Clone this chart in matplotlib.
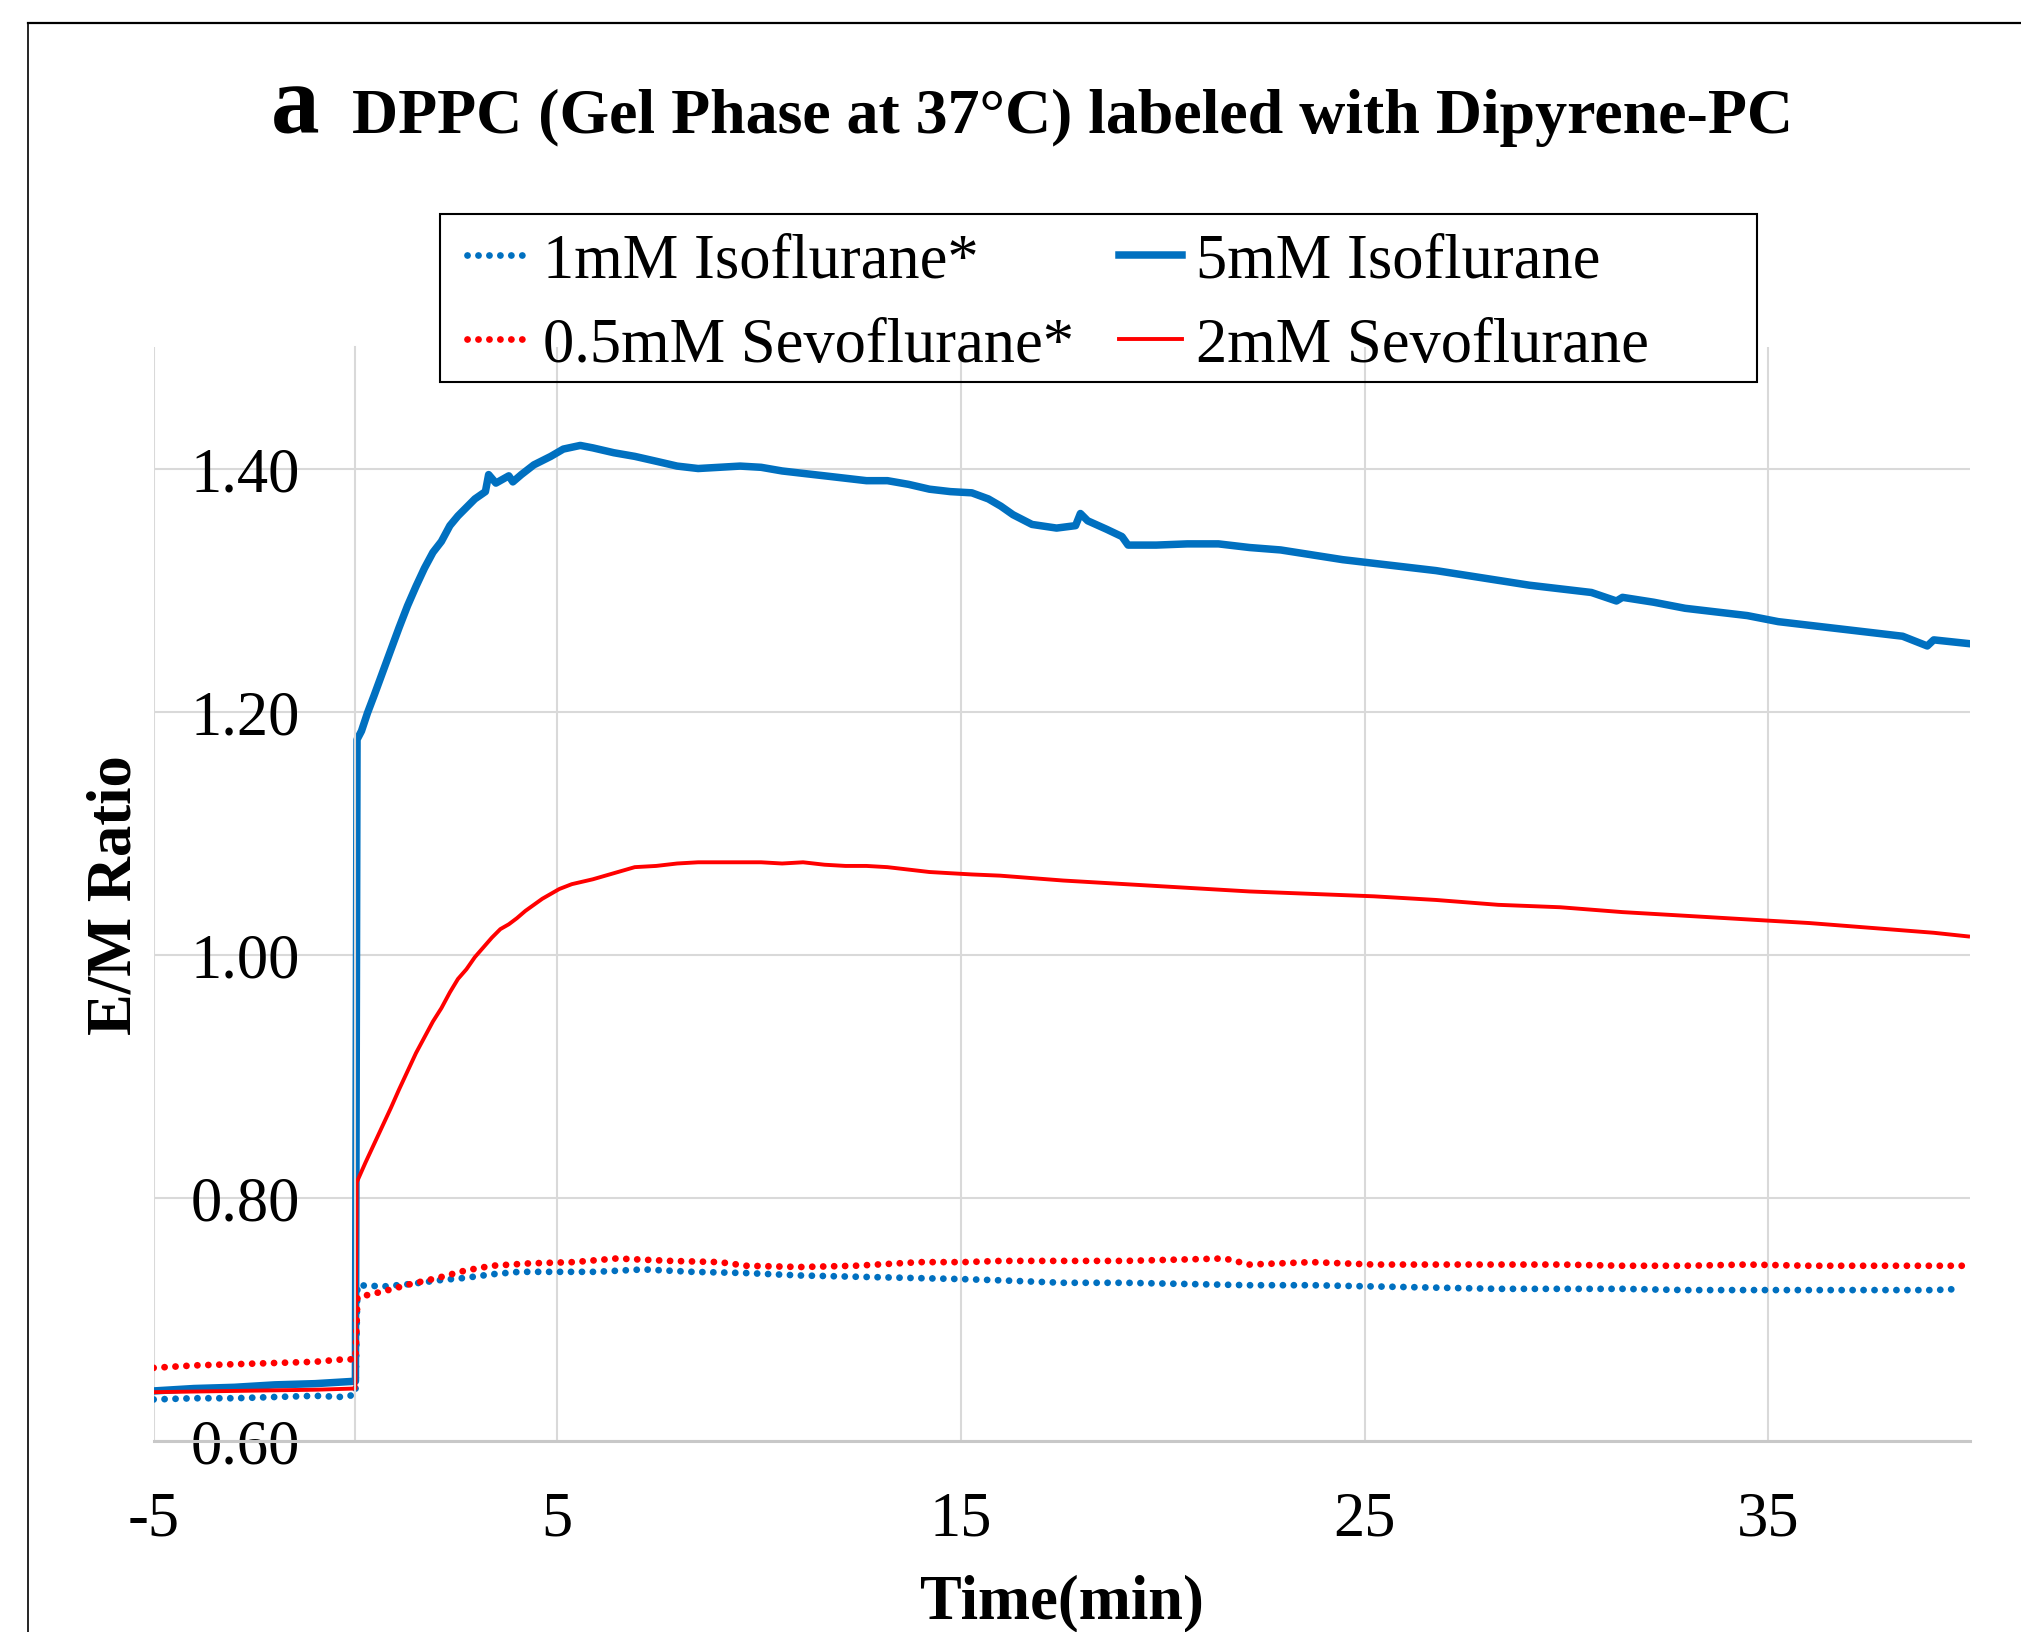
import numpy as np
import matplotlib
matplotlib.use("Agg")
import matplotlib.pyplot as plt
from matplotlib.lines import Line2D
from matplotlib.patches import Rectangle

# values, (time in min, E/M ratio)
iso1 = [(-5, 0.634), (-4, 0.635), (-3, 0.635), (-2, 0.636), (-1, 0.637), (-0.3, 0.636), (0.0, 0.638),
        (0.05, 0.728), (0.70, 0.727), (1.37, 0.729), (2.04, 0.732), (2.71, 0.734), (3.38, 0.737),
        (4.05, 0.739), (4.99, 0.739), (5.93, 0.739), (7.14, 0.741), (8.35, 0.739), (9.69, 0.738),
        (11.03, 0.736), (12.38, 0.735), (13.72, 0.734), (15.06, 0.733), (15.99, 0.732), (17.53, 0.730),
        (19.07, 0.730), (20.61, 0.729), (22.15, 0.728), (23.69, 0.728), (25.23, 0.727), (26.77, 0.726),
        (28.31, 0.725), (29.85, 0.725), (31.39, 0.725), (32.94, 0.724), (34.48, 0.724), (36.02, 0.724),
        (37.56, 0.724), (39.10, 0.724), (39.80, 0.725)]

iso5 = [(-5, 0.641), (-4, 0.643), (-3, 0.644), (-2, 0.646), (-1, 0.647), (0.0, 0.649), (0.04, 1.177),
        (0.15, 1.184), (0.30, 1.199), (0.46, 1.213), (0.67, 1.232), (0.88, 1.251), (1.08, 1.269),
        (1.29, 1.287), (1.50, 1.303), (1.71, 1.318), (1.92, 1.331), (2.13, 1.340), (2.34, 1.353),
        (2.54, 1.361), (2.75, 1.368), (2.96, 1.375), (3.22, 1.381), (3.30, 1.395), (3.48, 1.388),
        (3.80, 1.394), (3.90, 1.389), (4.11, 1.395), (4.42, 1.403), (4.84, 1.410), (5.15, 1.416),
        (5.57, 1.419), (5.88, 1.417), (6.40, 1.413), (6.92, 1.410), (7.45, 1.406), (7.97, 1.402),
        (8.49, 1.400), (9.01, 1.401), (9.53, 1.402), (10.05, 1.401), (10.57, 1.398), (11.09, 1.396),
        (11.62, 1.394), (12.14, 1.392), (12.66, 1.390), (13.18, 1.390), (13.70, 1.387), (14.22, 1.383),
        (14.74, 1.381), (15.27, 1.380), (15.68, 1.375), (15.99, 1.369), (16.29, 1.362), (16.76, 1.354),
        (17.37, 1.351), (17.84, 1.353), (17.96, 1.363), (18.14, 1.357), (18.61, 1.350), (18.99, 1.344),
        (19.14, 1.337), (19.84, 1.337), (20.61, 1.338), (21.38, 1.338), (22.15, 1.335), (22.92, 1.333),
        (23.69, 1.329), (24.46, 1.325), (25.23, 1.322), (26.00, 1.319), (26.77, 1.316), (27.54, 1.312),
        (28.31, 1.308), (29.08, 1.304), (29.85, 1.301), (30.62, 1.298), (31.24, 1.291), (31.39, 1.294),
        (32.16, 1.290), (32.94, 1.285), (33.71, 1.282), (34.48, 1.279), (35.25, 1.274), (36.02, 1.271),
        (36.79, 1.268), (37.56, 1.265), (38.33, 1.262), (38.94, 1.254), (39.10, 1.259), (39.95, 1.256)]

sevo05 = [(-5, 0.660), (-4, 0.662), (-3, 0.663), (-2, 0.664), (-1, 0.665), (-0.3, 0.667), (0.0, 0.667),
          (0.05, 0.718), (0.70, 0.723), (1.37, 0.729), (2.04, 0.734), (2.71, 0.740), (3.38, 0.744),
          (4.32, 0.746), (5.40, 0.747), (6.47, 0.750), (7.81, 0.748), (9.02, 0.747), (9.69, 0.744),
          (11.03, 0.743), (12.38, 0.744), (13.99, 0.747), (15.06, 0.747), (15.99, 0.748), (19.07, 0.748),
          (21.53, 0.750), (22.15, 0.745), (23.69, 0.747), (25.23, 0.745), (26.77, 0.745), (28.31, 0.745),
          (29.85, 0.745), (31.39, 0.744), (32.94, 0.744), (34.48, 0.745), (36.02, 0.744), (37.56, 0.744),
          (39.10, 0.744), (39.95, 0.744)]

sevo2 = [(-5, 0.640), (-3, 0.641), (-1, 0.642), (0.0, 0.643), (0.03, 0.8125), (0.09, 0.817),
         (0.25, 0.829), (0.46, 0.844), (0.67, 0.859), (0.88, 0.874), (1.08, 0.889), (1.29, 0.904),
         (1.50, 0.919), (1.71, 0.932), (1.92, 0.945), (2.13, 0.956), (2.34, 0.969), (2.54, 0.980),
         (2.75, 0.988), (2.96, 0.998), (3.17, 1.006), (3.38, 1.014), (3.59, 1.021), (3.80, 1.025),
         (4.00, 1.030), (4.21, 1.036), (4.42, 1.041), (4.63, 1.046), (4.84, 1.050), (5.05, 1.054),
         (5.36, 1.058), (5.88, 1.062), (6.40, 1.067), (6.92, 1.072), (7.45, 1.073), (7.97, 1.075),
         (8.49, 1.076), (9.01, 1.076), (9.53, 1.076), (10.05, 1.076), (10.57, 1.075), (11.09, 1.076),
         (11.62, 1.074), (12.14, 1.073), (12.66, 1.073), (13.18, 1.072), (13.70, 1.070), (14.22, 1.068),
         (14.74, 1.067), (15.27, 1.066), (15.97, 1.065), (17.53, 1.061), (19.07, 1.058), (20.61, 1.055),
         (22.15, 1.052), (23.69, 1.050), (25.23, 1.048), (26.77, 1.045), (28.31, 1.041), (29.85, 1.039),
         (31.39, 1.035), (32.94, 1.032), (34.48, 1.029), (36.02, 1.026), (37.56, 1.022), (39.10, 1.018),
         (39.95, 1.015)]

labels = ["1mM Isoflurane*", "5mM Isoflurane", "0.5mM Sevoflurane*", "2mM Sevoflurane"]
x_ticks = [-5, 5, 15, 25, 35]
y_ticks = [0.6, 0.8, 1.0, 1.2, 1.4]

BLUE = "#0070C0"
RED = "#FF0000"
GRID = "#D9D9D9"
DOTS = (0, (0.01, 1.6))


def make_chart():
    plt.rcParams["font.family"] = ["Liberation Serif", "DejaVu Serif"]
    plt.rcParams["axes.unicode_minus"] = False
    fig = plt.figure(figsize=(20.21, 16.33), dpi=100)
    ax = fig.add_axes([0.0760, 0.1171, 0.8988, 0.6698])

    t, v = np.array(iso1).T
    l1, = ax.plot(t, v, color=BLUE, lw=4.9, linestyle=DOTS, dash_capstyle="round")
    t, v = np.array(iso5).T
    l2, = ax.plot(t, v, color=BLUE, lw=5.4, solid_joinstyle="round")
    t, v = np.array(sevo05).T
    l3, = ax.plot(t, v, color=RED, lw=4.9, linestyle=DOTS, dash_capstyle="round")
    t, v = np.array(sevo2).T
    l4, = ax.plot(t, v, color=RED, lw=2.8)

    ax.set_xlim(-5, 40)
    ax.set_ylim(0.6, 1.5)
    ax.set_xticks(x_ticks)
    ax.set_yticks(y_ticks)
    ax.set_yticklabels(["%.2f" % y for y in y_ticks])
    ax.tick_params(axis="both", length=0, labelsize=45)
    ax.tick_params(axis="x", pad=36)
    ax.tick_params(axis="y", pad=40)
    ax.grid(True, color=GRID, lw=1.5)
    ax.set_axisbelow(True)

    for s in ["top", "right"]:
        ax.spines[s].set_visible(False)
    ax.spines["left"].set_position(("data", 0))
    ax.spines["left"].set_color(GRID)
    ax.spines["left"].set_linewidth(1.5)
    ax.spines["bottom"].set_color("#C8C8C8")
    ax.spines["bottom"].set_linewidth(2.2)

    ax.set_xlabel("Time(min)", fontsize=45, fontweight="bold", va="baseline")
    ax.xaxis.set_label_coords(0.5, -0.1612)
    ax.set_ylabel("E/M Ratio", fontsize=45, fontweight="bold", va="center")
    ax.yaxis.set_label_coords(-0.0207, 0.5)

    fig.text(271 / 2021, 1 - 133 / 1633, "a", fontsize=70, fontweight="bold", va="baseline")
    fig.text(352 / 2021, 1 - 133 / 1633, "DPPC (Gel Phase at 37°C) labeled with Dipyrene-PC",
             fontsize=46, fontweight="bold", va="baseline")

    # legend box sits partly above the plot area
    fig.add_artist(Rectangle((440 / 2021, 1 - 383 / 1633), 1317 / 2021, 168 / 1633,
                             transform=fig.transFigure, fill=False, ec="black", lw=1.5))
    fig.legend([l1, l3, l2, l4], [labels[0], labels[2], labels[1], labels[3]], ncol=2,
               loc="upper left", bbox_to_anchor=(467 / 2021, 1 - 234 / 1633), frameon=False,
               fontsize=45, handlelength=1.0, handletextpad=0.22, columnspacing=0.72,
               labelspacing=0.42, borderpad=0.0, borderaxespad=0)

    # outer chart border (top and left only visible)
    fig.add_artist(Line2D([28 / 2021, 1], [1 - 24 / 1633] * 2, color="black", lw=1.6,
                          transform=fig.transFigure))
    fig.add_artist(Line2D([28 / 2021] * 2, [0, 1 - 24 / 1633], color="black", lw=1.2,
                          transform=fig.transFigure))

    fig.savefig("out.png", dpi=100)
    plt.close(fig)


if __name__ == "__main__":
    make_chart()
